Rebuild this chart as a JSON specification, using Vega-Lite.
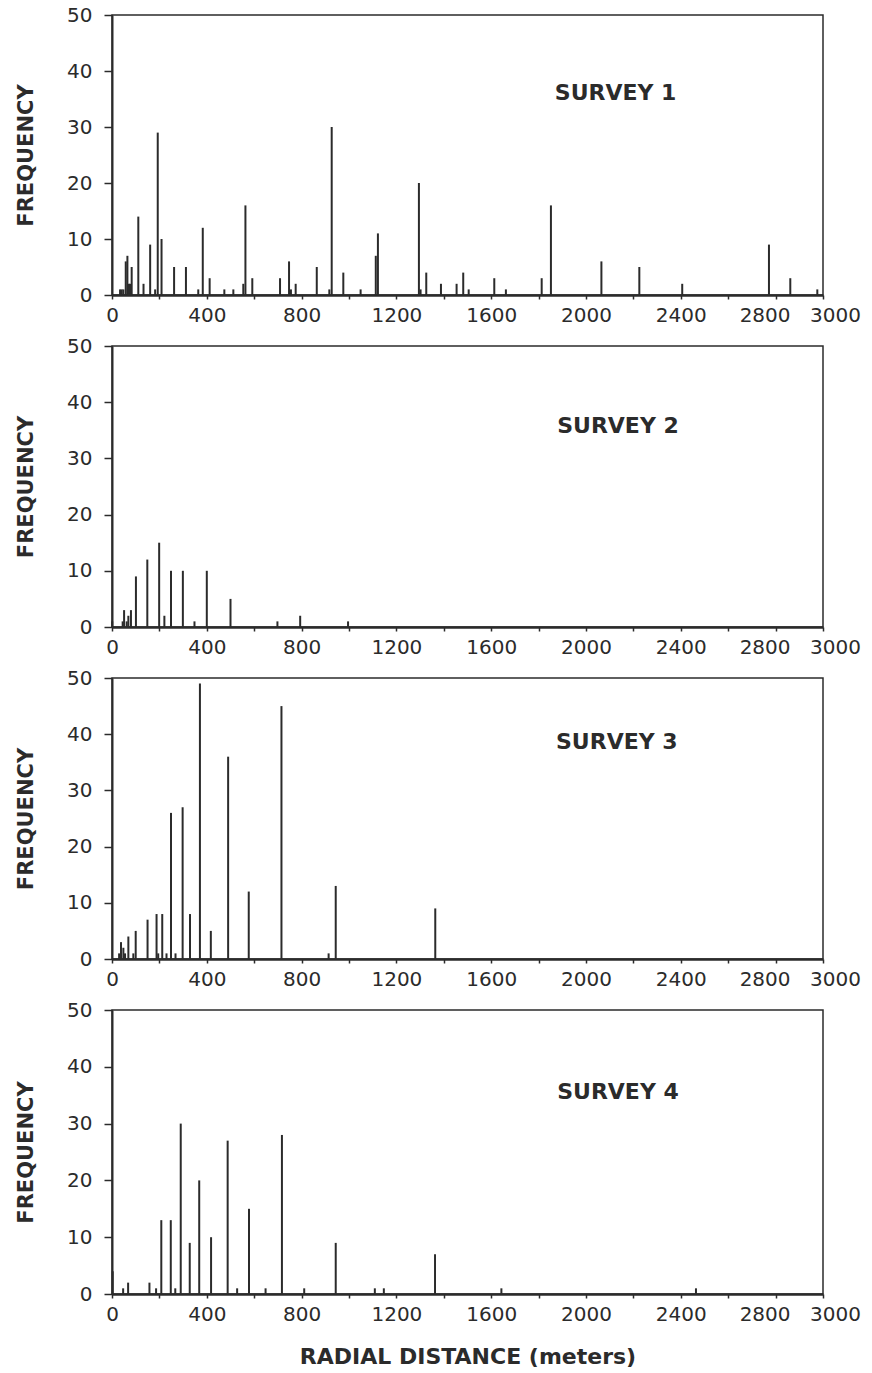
{
  "$schema": "https://vega.github.io/schema/vega-lite/v6.json",
  "padding": {"left": 14, "top": 4, "right": 5, "bottom": 5},
  "background": "white",
  "data": {"values": [
    {"survey":1,"distance":34,"frequency":1},{"survey":1,"distance":41,"frequency":1},{"survey":1,"distance":48,"frequency":1},
    {"survey":1,"distance":58,"frequency":6},{"survey":1,"distance":65,"frequency":7},{"survey":1,"distance":71,"frequency":2},
    {"survey":1,"distance":76,"frequency":2},{"survey":1,"distance":83,"frequency":5},{"survey":1,"distance":111,"frequency":14},
    {"survey":1,"distance":133,"frequency":2},{"survey":1,"distance":161,"frequency":9},{"survey":1,"distance":182,"frequency":1},
    {"survey":1,"distance":193,"frequency":29},{"survey":1,"distance":209,"frequency":10},{"survey":1,"distance":262,"frequency":5},
    {"survey":1,"distance":312,"frequency":5},{"survey":1,"distance":364,"frequency":1},{"survey":1,"distance":383,"frequency":12},
    {"survey":1,"distance":412,"frequency":3},{"survey":1,"distance":474,"frequency":1},{"survey":1,"distance":512,"frequency":1},
    {"survey":1,"distance":554,"frequency":2},{"survey":1,"distance":563,"frequency":16},{"survey":1,"distance":592,"frequency":3},
    {"survey":1,"distance":709,"frequency":3},{"survey":1,"distance":747,"frequency":6},{"survey":1,"distance":755,"frequency":1},
    {"survey":1,"distance":775,"frequency":2},{"survey":1,"distance":864,"frequency":5},{"survey":1,"distance":917,"frequency":1},
    {"survey":1,"distance":927,"frequency":30},{"survey":1,"distance":976,"frequency":4},{"survey":1,"distance":1049,"frequency":1},
    {"survey":1,"distance":1113,"frequency":7},{"survey":1,"distance":1122,"frequency":11},{"survey":1,"distance":1295,"frequency":20},
    {"survey":1,"distance":1302,"frequency":1},{"survey":1,"distance":1326,"frequency":4},{"survey":1,"distance":1388,"frequency":2},
    {"survey":1,"distance":1454,"frequency":2},{"survey":1,"distance":1482,"frequency":4},{"survey":1,"distance":1505,"frequency":1},
    {"survey":1,"distance":1613,"frequency":3},{"survey":1,"distance":1662,"frequency":1},{"survey":1,"distance":1813,"frequency":3},
    {"survey":1,"distance":1852,"frequency":16},{"survey":1,"distance":2065,"frequency":6},{"survey":1,"distance":2225,"frequency":5},
    {"survey":1,"distance":2406,"frequency":2},{"survey":1,"distance":2772,"frequency":9},{"survey":1,"distance":2862,"frequency":3},
    {"survey":1,"distance":2976,"frequency":1},

    {"survey":2,"distance":1,"frequency":1},{"survey":2,"distance":45,"frequency":1},{"survey":2,"distance":51,"frequency":3},
    {"survey":2,"distance":62,"frequency":1},{"survey":2,"distance":69,"frequency":2},{"survey":2,"distance":80,"frequency":3},
    {"survey":2,"distance":101,"frequency":9},{"survey":2,"distance":149,"frequency":12},{"survey":2,"distance":199,"frequency":15},
    {"survey":2,"distance":221,"frequency":2},{"survey":2,"distance":249,"frequency":10},{"survey":2,"distance":299,"frequency":10},
    {"survey":2,"distance":348,"frequency":1},{"survey":2,"distance":400,"frequency":10},{"survey":2,"distance":500,"frequency":5},
    {"survey":2,"distance":698,"frequency":1},{"survey":2,"distance":794,"frequency":2},{"survey":2,"distance":996,"frequency":1},

    {"survey":3,"distance":30,"frequency":1},{"survey":3,"distance":38,"frequency":3},{"survey":3,"distance":48,"frequency":2},
    {"survey":3,"distance":55,"frequency":1},{"survey":3,"distance":69,"frequency":4},{"survey":3,"distance":90,"frequency":1},
    {"survey":3,"distance":100,"frequency":5},{"survey":3,"distance":150,"frequency":7},{"survey":3,"distance":188,"frequency":8},
    {"survey":3,"distance":195,"frequency":1},{"survey":3,"distance":212,"frequency":8},{"survey":3,"distance":230,"frequency":1},
    {"survey":3,"distance":249,"frequency":26},{"survey":3,"distance":268,"frequency":1},{"survey":3,"distance":298,"frequency":27},
    {"survey":3,"distance":329,"frequency":8},{"survey":3,"distance":371,"frequency":49},{"survey":3,"distance":417,"frequency":5},
    {"survey":3,"distance":490,"frequency":36},{"survey":3,"distance":577,"frequency":12},{"survey":3,"distance":715,"frequency":45},
    {"survey":3,"distance":914,"frequency":1},{"survey":3,"distance":944,"frequency":13},{"survey":3,"distance":1364,"frequency":9},

    {"survey":4,"distance":3,"frequency":4},{"survey":4,"distance":47,"frequency":1},{"survey":4,"distance":68,"frequency":2},
    {"survey":4,"distance":158,"frequency":2},{"survey":4,"distance":186,"frequency":1},{"survey":4,"distance":208,"frequency":13},
    {"survey":4,"distance":248,"frequency":13},{"survey":4,"distance":267,"frequency":1},{"survey":4,"distance":290,"frequency":30},
    {"survey":4,"distance":328,"frequency":9},{"survey":4,"distance":368,"frequency":20},{"survey":4,"distance":418,"frequency":10},
    {"survey":4,"distance":488,"frequency":27},{"survey":4,"distance":528,"frequency":1},{"survey":4,"distance":578,"frequency":15},
    {"survey":4,"distance":648,"frequency":1},{"survey":4,"distance":717,"frequency":28},{"survey":4,"distance":811,"frequency":1},
    {"survey":4,"distance":944,"frequency":9},{"survey":4,"distance":1109,"frequency":1},{"survey":4,"distance":1147,"frequency":1},
    {"survey":4,"distance":1363,"frequency":7},{"survey":4,"distance":1643,"frequency":1},{"survey":4,"distance":2464,"frequency":1}
  ]},
  "spacing": 51,
  "bounds": "flush",
  "vconcat": [
    {
      "width": 711, "height": 280,
      "layer": [
        {
          "transform": [{"filter": "datum.survey == 1"}],
          "mark": {"type": "rule", "strokeWidth": 2, "color": "#2b2b2b"},
          "encoding": {
            "x": {"field": "distance", "type": "quantitative", "scale": {"domain": [0, 3000], "nice": false},
                  "axis": {"title": null, "values": [0,200,400,600,800,1000,1200,1400,1600,1800,2000,2200,2400,2600,2800,3000], "labelExpr": "(datum.value % 400 == 0 || datum.value == 3000) ? '' + datum.value : ''"}},
            "y": {"field": "frequency", "type": "quantitative", "scale": {"domain": [0, 50], "nice": false},
                  "axis": {"title": "FREQUENCY", "values": [0,10,20,30,40,50]}},
            "y2": {"datum": 0}
          }
        },
        {
          "data": {"values": [{"label": "SURVEY  1"}]},
          "mark": {"type": "text", "font": "DejaVu Sans", "fontWeight": "bold", "fontSize": 22, "color": "#2b2b2b", "align": "center", "baseline": "middle"},
          "encoding": {"x": {"datum": 2125}, "y": {"datum": 36}, "text": {"field": "label"}}
        }
      ]
    },
    {
      "width": 711, "height": 281,
      "layer": [
        {
          "transform": [{"filter": "datum.survey == 2"}],
          "mark": {"type": "rule", "strokeWidth": 2, "color": "#2b2b2b"},
          "encoding": {
            "x": {"field": "distance", "type": "quantitative", "scale": {"domain": [0, 3000], "nice": false},
                  "axis": {"title": null, "values": [0,200,400,600,800,1000,1200,1400,1600,1800,2000,2200,2400,2600,2800,3000], "labelExpr": "(datum.value % 400 == 0 || datum.value == 3000) ? '' + datum.value : ''"}},
            "y": {"field": "frequency", "type": "quantitative", "scale": {"domain": [0, 50], "nice": false},
                  "axis": {"title": "FREQUENCY", "values": [0,10,20,30,40,50]}},
            "y2": {"datum": 0}
          }
        },
        {
          "data": {"values": [{"label": "SURVEY  2"}]},
          "mark": {"type": "text", "font": "DejaVu Sans", "fontWeight": "bold", "fontSize": 22, "color": "#2b2b2b", "align": "center", "baseline": "middle"},
          "encoding": {"x": {"datum": 2135}, "y": {"datum": 35.8}, "text": {"field": "label"}}
        }
      ]
    },
    {
      "width": 711, "height": 281,
      "layer": [
        {
          "transform": [{"filter": "datum.survey == 3"}],
          "mark": {"type": "rule", "strokeWidth": 2, "color": "#2b2b2b"},
          "encoding": {
            "x": {"field": "distance", "type": "quantitative", "scale": {"domain": [0, 3000], "nice": false},
                  "axis": {"title": null, "values": [0,200,400,600,800,1000,1200,1400,1600,1800,2000,2200,2400,2600,2800,3000], "labelExpr": "(datum.value % 400 == 0 || datum.value == 3000) ? '' + datum.value : ''"}},
            "y": {"field": "frequency", "type": "quantitative", "scale": {"domain": [0, 50], "nice": false},
                  "axis": {"title": "FREQUENCY", "values": [0,10,20,30,40,50]}},
            "y2": {"datum": 0}
          }
        },
        {
          "data": {"values": [{"label": "SURVEY  3"}]},
          "mark": {"type": "text", "font": "DejaVu Sans", "fontWeight": "bold", "fontSize": 22, "color": "#2b2b2b", "align": "center", "baseline": "middle"},
          "encoding": {"x": {"datum": 2130}, "y": {"datum": 38.6}, "text": {"field": "label"}}
        }
      ]
    },
    {
      "width": 711, "height": 284,
      "layer": [
        {
          "transform": [{"filter": "datum.survey == 4"}],
          "mark": {"type": "rule", "strokeWidth": 2, "color": "#2b2b2b"},
          "encoding": {
            "x": {"field": "distance", "type": "quantitative", "scale": {"domain": [0, 3000], "nice": false},
                  "axis": {"title": "RADIAL DISTANCE (meters)", "values": [0,200,400,600,800,1000,1200,1400,1600,1800,2000,2200,2400,2600,2800,3000], "labelExpr": "(datum.value % 400 == 0 || datum.value == 3000) ? '' + datum.value : ''"}},
            "y": {"field": "frequency", "type": "quantitative", "scale": {"domain": [0, 50], "nice": false},
                  "axis": {"title": "FREQUENCY", "values": [0,10,20,30,40,50]}},
            "y2": {"datum": 0}
          }
        },
        {
          "data": {"values": [{"label": "SURVEY  4"}]},
          "mark": {"type": "text", "font": "DejaVu Sans", "fontWeight": "bold", "fontSize": 22, "color": "#2b2b2b", "align": "center", "baseline": "middle"},
          "encoding": {"x": {"datum": 2135}, "y": {"datum": 35.6}, "text": {"field": "label"}}
        }
      ]
    }
  ],
  "config": {
    "view": {"stroke": "#2b2b2b", "strokeWidth": 1.5},
    "axisX": {
      "grid": false, "tickSize": 4, "tickColor": "#2b2b2b", "tickWidth": 1.5,
      "domainColor": "#2b2b2b", "domainWidth": 2.5,
      "labelFont": "DejaVu Sans", "labelFontSize": 20, "labelColor": "#2b2b2b",
      "labelPadding": 6, "labelFlush": false, "labelOverlap": false, "labelBound": false,
      "labelOffset": {"condition": [{"test": "datum.value == 3000", "value": 12}, {"test": "datum.value == 2800", "value": -11}], "value": 0},
      "titleFont": "DejaVu Sans", "titleFontWeight": "bold", "titleFontSize": 22, "titleColor": "#2b2b2b", "titlePadding": 22
    },
    "axisY": {
      "grid": false, "tickSize": 8, "tickColor": "#2b2b2b", "tickWidth": 1.5,
      "domainColor": "#2b2b2b", "domainWidth": 2,
      "labelFont": "DejaVu Sans", "labelFontSize": 20, "labelColor": "#2b2b2b", "labelPadding": 12,
      "titleFont": "DejaVu Sans", "titleFontWeight": "bold", "titleFontSize": 21, "titleColor": "#2b2b2b", "titlePadding": 30
    }
  }
}
